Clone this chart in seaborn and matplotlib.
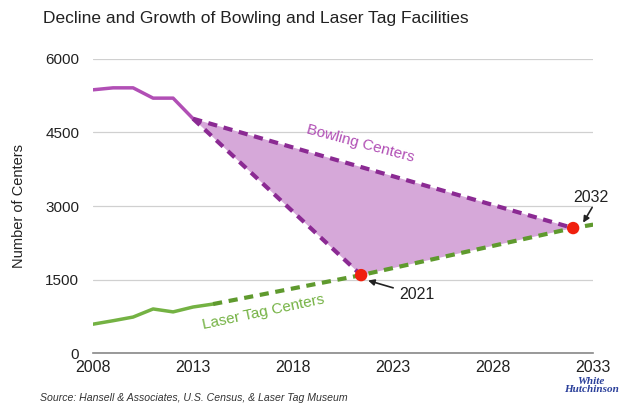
import matplotlib
matplotlib.use("Agg")
import matplotlib.pyplot as plt
import seaborn as sns
import pandas as pd
from matplotlib.patches import Polygon

sns.set_theme(style="white")
plt.rcParams['font.family'] = ['Liberation Sans', 'DejaVu Sans']

# Data
bowling_years = [2008, 2009, 2010, 2011, 2012, 2013]
bowling_vals = [5370, 5410, 5410, 5200, 5200, 4780]
bowling_proj_high_years = [2013, 2032]
bowling_proj_high_vals = [4780, 2550]
bowling_proj_low_years = [2013, 2021.4]
bowling_proj_low_vals = [4780, 1590]

laser_years = [2008, 2009, 2010, 2011, 2012, 2013, 2014]
laser_vals = [590, 660, 735, 900, 840, 940, 1000]
laser_proj_years = [2014, 2021.4, 2032, 2033]
laser_proj_vals = [1000, 1590, 2550, 2620]

cross_years = [2021.4, 2032]
cross_vals = [1590, 2550]
cross_labels = ["2021", "2032"]

x_ticks = [2008, 2013, 2018, 2023, 2028, 2033]
y_ticks = [0, 1500, 3000, 4500, 6000]

purple_solid = "#b14fb5"
purple_dash = "#8b2a93"
fill_col = "#d6a8d9"
green_solid = "#74b243"
green_dash = "#5f9a2e"

fig = plt.figure(figsize=(6.29, 4.12), dpi=100)
ax = fig.add_axes([0.148, 0.143, 0.795, 0.714])

# fill
poly = Polygon([(bowling_proj_high_years[0], bowling_proj_high_vals[0]),
                (bowling_proj_high_years[1], bowling_proj_high_vals[1]),
                (bowling_proj_low_years[1], bowling_proj_low_vals[1])],
               closed=True, facecolor=fill_col, edgecolor='none', zorder=1)
ax.add_patch(poly)

sns.lineplot(x=bowling_years, y=bowling_vals, ax=ax, color=purple_solid, linewidth=2.5, zorder=3)
sns.lineplot(x=bowling_proj_high_years, y=bowling_proj_high_vals, ax=ax, color=purple_dash,
             linewidth=3, linestyle=(0, (2.2, 1.6)), zorder=3)
sns.lineplot(x=bowling_proj_low_years, y=bowling_proj_low_vals, ax=ax, color=purple_dash,
             linewidth=3, linestyle=(0, (2.2, 1.6)), zorder=3)
sns.lineplot(x=laser_years, y=laser_vals, ax=ax, color=green_solid, linewidth=2.5, zorder=3)
sns.lineplot(x=laser_proj_years, y=laser_proj_vals, ax=ax, color=green_dash,
             linewidth=3, linestyle=(0, (2.2, 1.6)), zorder=3)
sns.scatterplot(x=cross_years, y=cross_vals, ax=ax, color="#f0200e", s=80, edgecolor='none', zorder=5)

# annotations
ax.annotate(cross_labels[0], xy=(cross_years[0] + 0.35, cross_vals[0] - 110),
            xytext=(cross_years[0] + 1.9, cross_vals[0] - 400), fontsize=11.5, color="#222222",
            ha='left', va='center',
            arrowprops=dict(arrowstyle='-|>', color='#222222', lw=1.2, mutation_scale=9,
                            shrinkA=2, shrinkB=0))
ax.annotate("", xy=(cross_years[1] + 0.5, cross_vals[1] + 110),
            xytext=(cross_years[1] + 0.95, cross_vals[1] + 420),
            arrowprops=dict(arrowstyle='-|>', color='#222222', lw=1.2, mutation_scale=9,
                            shrinkA=0, shrinkB=0))
ax.text(cross_years[1] + 0.9, cross_vals[1] + 620, cross_labels[1], fontsize=11.5,
        color="#222222", ha='center', va='center')

ax.text(2021.35, 4270, "Bowling Centers", color=purple_solid, fontsize=11, rotation=-15,
        ha='center', va='center')
ax.text(2016.5, 840, "Laser Tag Centers", color=green_solid, fontsize=11, rotation=12,
        ha='center', va='center')

ax.set_xlim(2008, 2033)
ax.set_ylim(0, 6000)
ax.set_xticks(x_ticks)
ax.set_xticklabels([str(t) for t in x_ticks], fontsize=11.5, color="#222222")
ax.set_yticks(y_ticks)
ax.set_yticklabels([str(t) for t in y_ticks], fontsize=11, color="#222222")
ax.tick_params(axis='x', length=0, pad=5)
ax.tick_params(axis='y', length=0, pad=10)
ax.yaxis.grid(True, color="#d0d0d0", linewidth=0.9)
ax.xaxis.grid(False)
for s in ['top', 'right', 'left']:
    ax.spines[s].set_visible(False)
ax.spines['bottom'].set_color("#888888")
ax.spines['bottom'].set_linewidth(1.2)
ax.set_axisbelow(True)

ax.set_ylabel("Number of Centers", fontsize=10.5, color="#222222", labelpad=14)
ax.set_xlabel("")

fig.text(0.407, 0.955, "Decline and Growth of Bowling and Laser Tag Facilities", ha='center',
         va='center', fontsize=12.5, color="#222222")
fig.text(0.063, 0.034, "Source: Hansell & Associates, U.S. Census, & Laser Tag Museum",
         fontsize=7.6, style='italic', color="#333333", ha='left', va='center')
fig.text(0.94, 0.065, "White\nHutchinson", fontsize=8, style='italic', weight='bold',
         color="#2a3f9a", ha='center', va='center', linespacing=0.8,
         fontfamily='Liberation Serif')

fig.savefig("out.png", dpi=100)
